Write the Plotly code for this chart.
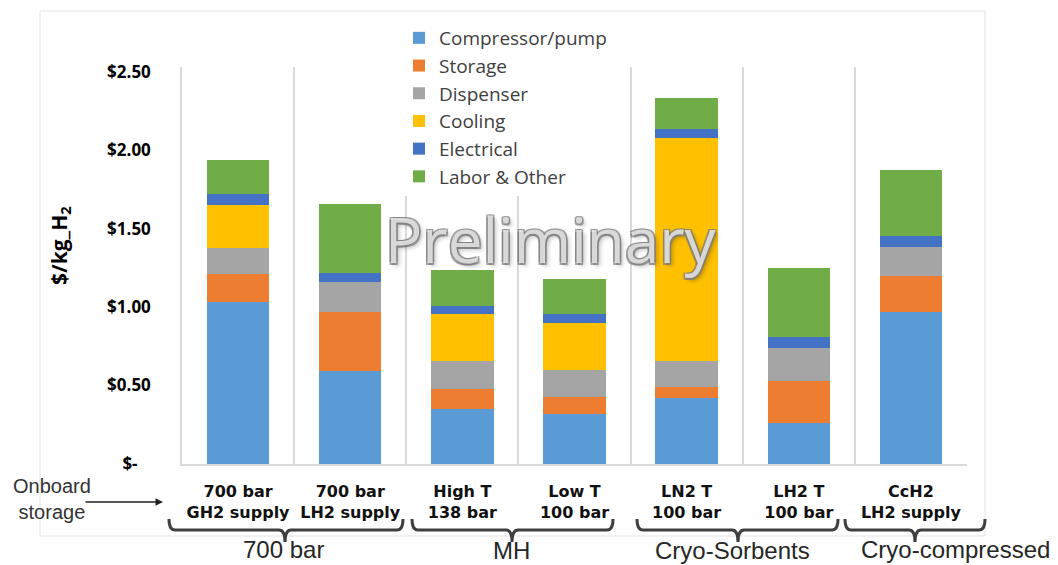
import plotly.graph_objects as go

# ---------------- data ----------------
categories = ["700 bar<br>GH2 supply", "700 bar<br>LH2 supply", "High T<br>138 bar",
              "Low T<br>100 bar", "LN2 T<br>100 bar", "LH2 T<br>100 bar", "CcH2<br>LH2 supply"]
compressor = [1.03, 0.59, 0.35, 0.32, 0.42, 0.26, 0.97]
storage    = [0.18, 0.38, 0.13, 0.11, 0.07, 0.27, 0.23]
dispenser  = [0.165, 0.19, 0.175, 0.17, 0.165, 0.21, 0.185]
cooling    = [0.275, 0.0, 0.30, 0.30, 1.42, 0.0, 0.0]
electrical = [0.07, 0.06, 0.055, 0.057, 0.057, 0.072, 0.068]
labor      = [0.22, 0.44, 0.225, 0.22, 0.20, 0.435, 0.42]

series_names = ["Compressor/pump", "Storage", "Dispenser", "Cooling", "Electrical", "Labor & Other"]
series_vals = [compressor, storage, dispenser, cooling, electrical, labor]
series_colors = ["#5B9BD5", "#ED7D31", "#A5A5A5", "#FFC000", "#4472C4", "#70AD47"]

ytick_vals = [0, 0.5, 1.0, 1.5, 2.0, 2.5]
ytick_text = ["$-\u00a0\u00a0\u00a0", "$0.50", "$1.00", "$1.50", "$2.00", "$2.50"]

group_labels = ["700 bar", "MH", "Cryo-Sorbents", "Cryo-compressed"]

# ---------------- layout helpers ----------------
W, H = 1058, 565
L, R, T, B = 182, 967, 67, 464


def px(x):
    return (x - L) / (R - L)


def py(y):
    return (B - y) / (B - T)


fig = go.Figure()
for name, vals, col in zip(series_names, series_vals, series_colors):
    fig.add_trace(go.Bar(x=categories, y=vals, name=name, marker_color=col,
                         marker_line_width=0, legendgroup=name))

shapes = []
# outer chart frame
shapes.append(dict(type="rect", xref="paper", yref="paper", x0=px(40), x1=px(985),
                   y0=py(536), y1=py(11), line=dict(color="#e3e3e3", width=1), layer="below"))

# brackets (left, right, center)
brackets = [(169, 403, 285), (412, 613, 512), (637, 838, 738), (845, 985, 915)]
yl, yu, yd = 530, 519, 542
for l, r, c in brackets:
    pts = (f"M {px(l)},{py(yu)} Q {px(l)},{py(yl)} {px(l+6)},{py(yl)} "
           f"L {px(c-6)},{py(yl)} Q {px(c)},{py(yl)} {px(c)},{py(yd)} "
           f"Q {px(c)},{py(yl)} {px(c+6)},{py(yl)} "
           f"L {px(r-6)},{py(yl)} Q {px(r)},{py(yl)} {px(r)},{py(yu)}")
    shapes.append(dict(type="path", xref="paper", yref="paper", path=pts,
                       line=dict(color="#3f3f3f", width=3)))

annotations = []
group_pos = [(283, 549), (511, 550), (732, 550), (955, 549)]
for txt, (x, y) in zip(group_labels, group_pos):
    annotations.append(dict(text=txt, xref="paper", yref="paper", x=px(x), y=py(y),
                            xanchor="center", yanchor="middle", showarrow=False,
                            font=dict(family="Liberation Sans, Arial", size=24, color="#262626")))

# Onboard storage label + arrow
annotations.append(dict(text="Onboard<br>storage", xref="paper", yref="paper", x=px(52), y=py(499),
                        xanchor="center", yanchor="middle", showarrow=False, align="center",
                        font=dict(family="Liberation Sans, Arial", size=20, color="#333333")))
annotations.append(dict(text="", xref="paper", yref="paper", x=px(163), y=py(502),
                        ax=-79, ay=0, axref="pixel", ayref="pixel",
                        showarrow=True, arrowhead=2, arrowsize=1, arrowwidth=1.5,
                        arrowcolor="#222222"))

# y-axis title
annotations.append(dict(text="<b>$/kg_H<sub>2</sub></b>", xref="paper", yref="paper",
                        x=px(60), y=py(246), textangle=-90, showarrow=False,
                        xanchor="center", yanchor="middle",
                        font=dict(family="Open Sans", size=21, color="#000000")))

# watermark
annotations.append(dict(text="Preliminary", xref="paper", yref="paper", x=px(551), y=py(239),
                        xanchor="center", yanchor="middle", showarrow=False,
                        font=dict(family="Open Sans", size=62, color="rgba(255,255,255,0.7)",
                                  shadow="-1.5px -1.5px 0 #7a7a7a, 1.5px -1.5px 0 #7a7a7a, "
                                         "-1.5px 1.5px 0 #7a7a7a, 1.5px 1.5px 0 #7a7a7a, "
                                         "3px 3px 4px rgba(0,0,0,0.35)")))

fig.update_layout(
    width=W, height=H,
    margin=dict(l=L, r=W - R, t=T, b=H - B, autoexpand=False),
    paper_bgcolor="white", plot_bgcolor="white",
    barmode="stack", bargap=0.443,
    showlegend=True,
    legend=dict(x=px(399), y=py(19), xanchor="left", yanchor="top", bgcolor="white",
                traceorder="normal", tracegroupgap=6,
                font=dict(family="Open Sans", size=19, color="#404040")),
    shapes=shapes, annotations=annotations,
    xaxis=dict(tickson="boundaries", showgrid=True, gridcolor="#d9d9d9", gridwidth=1.5,
               showline=True, linecolor="#d9d9d9", linewidth=1.5, ticks="",
               tickfont=dict(family="DejaVu Sans", size=16, color="#111111", weight="bold"),
               ticklabelstandoff=12),
    yaxis=dict(range=[0, 2.53], tickvals=ytick_vals, ticktext=ytick_text, showgrid=False,
               zeroline=False, showline=True, linecolor="#d9d9d9", linewidth=1.5,
               ticks="", ticklabelstandoff=26,
               tickfont=dict(family="Open Sans", size=17, color="#000000", weight="bold")),
)

fig.write_html("out.html", config={"displayModeBar": False},
               post_script="document.body.style.margin='0px';")
